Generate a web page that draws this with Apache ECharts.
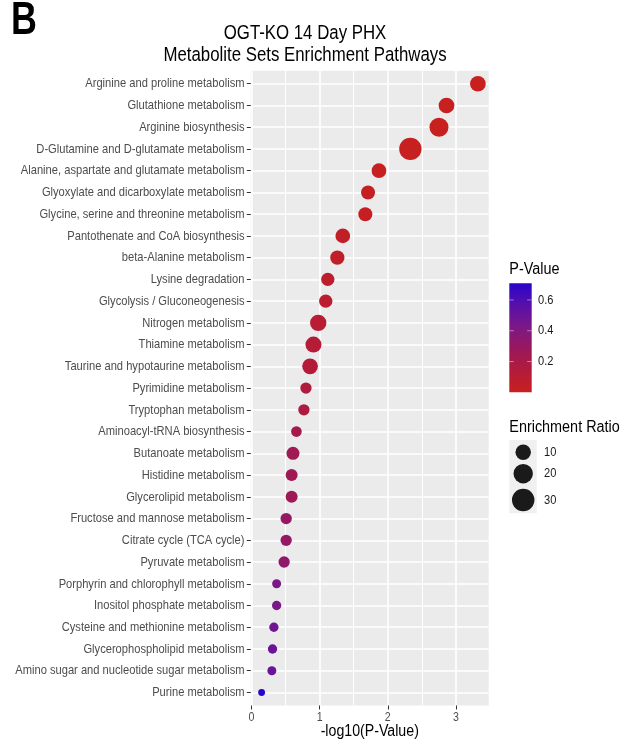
<!DOCTYPE html>
<html><head><meta charset="utf-8">
<script src="https://cdn.jsdelivr.net/npm/echarts@6/dist/echarts.min.js"></script>
<style>html,body{margin:0;padding:0;background:#fff}#c{width:631px;height:743px}</style>
</head><body><div id="c"></div>
<script>
const categories = [
  'Arginine and proline metabolism','Glutathione metabolism','Arginine biosynthesis',
  'D-Glutamine and D-glutamate metabolism','Alanine, aspartate and glutamate metabolism',
  'Glyoxylate and dicarboxylate metabolism','Glycine, serine and threonine metabolism',
  'Pantothenate and CoA biosynthesis','beta-Alanine metabolism','Lysine degradation',
  'Glycolysis / Gluconeogenesis','Nitrogen metabolism','Thiamine metabolism',
  'Taurine and hypotaurine metabolism','Pyrimidine metabolism','Tryptophan metabolism',
  'Aminoacyl-tRNA biosynthesis','Butanoate metabolism','Histidine metabolism',
  'Glycerolipid metabolism','Fructose and mannose metabolism','Citrate cycle (TCA cycle)',
  'Pyruvate metabolism','Porphyrin and chlorophyll metabolism','Inositol phosphate metabolism',
  'Cysteine and methionine metabolism','Glycerophospholipid metabolism',
  'Amino sugar and nucleotide sugar metabolism','Purine metabolism'
];
const negLog10P = [3.32,2.86,2.75,2.33,1.87,1.71,1.67,1.34,1.26,1.12,1.09,0.98,0.91,0.86,0.80,0.77,0.66,0.61,0.59,0.59,0.51,0.51,0.48,0.37,0.37,0.33,0.31,0.30,0.15];
const pValues = [0.00048,0.00138,0.00178,0.00468,0.0135,0.0195,0.0214,0.0457,0.055,0.0759,0.0813,0.105,0.123,0.138,0.158,0.170,0.219,0.245,0.257,0.257,0.309,0.309,0.331,0.427,0.427,0.468,0.490,0.501,0.708];
const enrichmentRatio = [10.5,10.5,18.8,29.5,8.5,7.2,7.2,8.5,7.7,6.0,6.0,11.9,11.2,10.5,3.2,3.2,2.5,5.5,4.1,4.1,3.2,3.2,3.2,1.05,1.27,1.27,1.27,1.05,0.1];
const xTicks = [0,1,2,3];
const xMinorTicks = [0.5,1.5,2.5];
const pTicks = [0.2,0.4,0.6];
const ratioTicks = [10,20,30];
const titleLines = ['OGT-KO 14 Day PHX','Metabolite Sets Enrichment Pathways'];
const xAxisTitle = '-log10(P-Value)';

const FONT = '"Liberation Sans",Arial,sans-serif';
const SX = 0.82; // narrow (condensed) lettering as in the reference
const colorStops = ['#c8201f','#b21c3a','#9a185c','#7c1888','#5810a8','#2a04cc'];
function sizeOf(r){ return 5.9 + 3.02*Math.sqrt(r); }

const n = categories.length;
const xLo = Math.min(...negLog10P), xHi = Math.max(...negLog10P);
const xPad = (xHi - xLo) * 0.05;
const pMin = Math.min(...pValues), pMax = Math.max(...pValues);
const points = categories.map((c,i)=>[negLog10P[i], i, enrichmentRatio[i], pValues[i]]);

function txt(x, y, text, size, opts){
  opts = opts || {};
  return {type:'text', x:x, y:y, scaleX:opts.sx||SX, z:100,
    style:{text:text, font:(opts.bold?'bold ':'')+size+'px '+FONT, fill:opts.color||'#000',
      align:opts.align||'left', verticalAlign:'middle'}};
}

const chart = echarts.init(document.getElementById('c'), null, {renderer:'canvas'});
chart.setOption({
  animation:false,
  backgroundColor:'#fff',
  grid:{left:250.8, right:142.3, top:70.7, bottom:37.5, show:true, backgroundColor:'#ebebeb', borderWidth:0,
    containLabel:false, outerBoundsMode:'none'},
  visualMap:{show:false, type:'continuous', dimension:3, min:pMin, max:pMax, seriesIndex:0, inRange:{color:colorStops}},
  xAxis:[{
    type:'value', min:xLo - xPad, max:xHi + xPad, position:'bottom',
    axisLine:{show:false, onZero:false},
    axisTick:{show:true, length:4, lineStyle:{color:'#333', width:1}, customValues:xTicks},
    axisLabel:{show:false, customValues:xTicks},
    splitLine:{show:true, lineStyle:{color:'#fff', width:1.6}}
  },{
    type:'value', min:xLo - xPad, max:xHi + xPad, position:'top',
    axisLine:{show:false, onZero:false}, axisTick:{show:false, customValues:xMinorTicks},
    axisLabel:{show:false, customValues:xMinorTicks},
    splitLine:{show:true, lineStyle:{color:'#fff', width:1.0}}
  }],
  yAxis:{
    type:'value', inverse:true, min:-0.6, max:n - 1 + 0.6,
    axisLine:{show:false, onZero:false},
    axisTick:{show:true, length:4, lineStyle:{color:'#333', width:1}, customValues:categories.map((_,i)=>i)},
    axisLabel:{show:false, customValues:categories.map((_,i)=>i)},
    splitLine:{show:true, lineStyle:{color:'#fff', width:1.7}}
  },
  series:[{
    type:'scatter', xAxisIndex:0, data:points,
    symbolSize:d=>sizeOf(d[2]),
    itemStyle:{opacity:1}
  }]
});

// text and legends (positioned through the axes' own scales)
const graphics = [];
graphics.push(txt(11, 21.5, 'B', 46, {bold:true, sx:0.78}));
graphics.push(txt(305, 33.5, titleLines[0], 20.5, {align:'center'}));
graphics.push(txt(305, 55, titleLines[1], 20.5, {align:'center'}));
categories.forEach((c,i)=>{
  const y = chart.convertToPixel({yAxisIndex:0}, i);
  graphics.push(txt(244.5, y, c, 13.6, {align:'right', color:'#4d4d4d'}));
});
xTicks.forEach(t=>{
  const x = chart.convertToPixel({xAxisIndex:0}, t);
  graphics.push(txt(x, 717, String(t), 13, {align:'center', color:'#4d4d4d'}));
});
const gL = chart.convertToPixel({xAxisIndex:0}, xLo - xPad), gR = chart.convertToPixel({xAxisIndex:0}, xHi + xPad);
graphics.push(txt((gL+gR)/2, 731.5, xAxisTitle, 17.3, {align:'center'}));

const bar = {x:509.3, y:283.3, w:22.4, h:109};
graphics.push(txt(509.3, 270, 'P-Value', 16, {sx:0.9}));
graphics.push({type:'rect', shape:{x:bar.x, y:bar.y, width:bar.w, height:bar.h},
  style:{fill:new echarts.graphic.LinearGradient(0,1,0,0, colorStops.map((c,i)=>({offset:i/(colorStops.length-1), color:c})))}});
pTicks.forEach(t=>{
  const y = bar.y + bar.h - (t - pMin)/(pMax - pMin)*bar.h;
  graphics.push({type:'line', shape:{x1:bar.x, y1:y, x2:bar.x+4.5, y2:y}, style:{stroke:'rgba(255,255,255,0.45)', lineWidth:1}});
  graphics.push({type:'line', shape:{x1:bar.x+bar.w-4.5, y1:y, x2:bar.x+bar.w, y2:y}, style:{stroke:'rgba(255,255,255,0.45)', lineWidth:1}});
  graphics.push(txt(538, y, t.toFixed(1), 13.5, {color:'#1a1a1a'}));
});
graphics.push(txt(509.3, 428, 'Enrichment Ratio', 16, {sx:0.9}));
graphics.push({type:'rect', shape:{x:509.3, y:440, width:27.4, height:73.3}, style:{fill:'#f0f0f0'}});
const keyY = [452.3, 473.7, 500];
ratioTicks.forEach((r,i)=>{
  graphics.push({type:'circle', shape:{cx:523.2, cy:keyY[i], r:sizeOf(r)/2}, style:{fill:'#1a1a1a'}});
  graphics.push(txt(544, keyY[i], String(r), 13.5, {color:'#1a1a1a'}));
});
chart.setOption({graphic:graphics});
</script></body></html>
